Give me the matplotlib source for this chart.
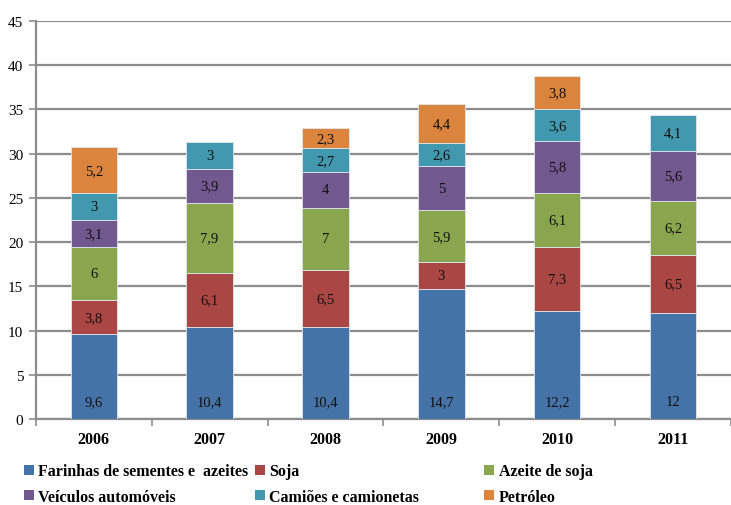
import matplotlib
matplotlib.use("Agg")
import matplotlib.pyplot as plt
import numpy as np
from matplotlib.patches import Patch

plt.rcParams['font.family'] = ['Liberation Serif', 'DejaVu Serif']

years = ['2006', '2007', '2008', '2009', '2010', '2011']
series_names = ['Farinhas de sementes e  azeites', 'Soja', 'Azeite de soja',
                'Veículos automóveis', 'Camiões e camionetas', 'Petróleo']
farinhas = [9.6, 10.4, 10.4, 14.7, 12.2, 12.0]
soja = [3.8, 6.1, 6.5, 3.0, 7.3, 6.5]
azeite = [6.0, 7.9, 7.0, 5.9, 6.1, 6.2]
veiculos = [3.1, 3.9, 4.0, 5.0, 5.8, 5.6]
camioes = [3.0, 3.0, 2.7, 2.6, 3.6, 4.1]
petroleo = [5.2, 0.0, 2.3, 4.4, 3.8, 0.0]

colors = ['#4572A7', '#AA4643', '#89A54E', '#71588F', '#4198AF', '#DB843D']
series = [farinhas, soja, azeite, veiculos, camioes, petroleo]

def fmt(v):
    s = f"{v:.1f}".rstrip('0').rstrip('.')
    return s.replace('.', ',')

fig = plt.figure(figsize=(7.31, 5.06), dpi=100)
ax = fig.add_axes([0.049, 0.170, 0.951, 0.7865])

x = np.arange(len(years))
bottom = np.zeros(len(years))
for i, (vals, col) in enumerate(zip(series, colors)):
    vals = np.array(vals)
    ax.bar(x, vals, width=0.4, bottom=bottom, color=col, edgecolor='#dfe6ee',
           linewidth=0.6, zorder=3)
    for xi, b, v in zip(x, bottom, vals):
        if v <= 0:
            continue
        ypos = b + 2.0 if i == 0 else b + v / 2
        ax.text(xi, ypos, fmt(v), ha='center', va='center', fontsize=10.5,
                color='#111111', zorder=4)
    bottom += vals

ax.set_xlim(-0.5, len(years) - 0.5)
ax.set_ylim(0, 45)
ax.set_yticks(np.arange(0, 46, 5))
ax.yaxis.grid(True, color='#8c8c8c', linewidth=1.6, zorder=0)
ax.set_axisbelow(True)

ax.set_xticks(x)
ax.set_xticklabels(years, fontweight='bold', fontsize=11.5)
ax.set_xticks(np.arange(-0.5, len(years), 1.0), minor=True)
ax.tick_params(axis='x', which='major', length=0, pad=9)
ax.tick_params(axis='x', which='minor', length=5, width=1.2, color='#8c8c8c',
               direction='out')
ax.tick_params(axis='y', length=5, width=1.2, color='#8c8c8c', labelsize=11,
               pad=4)

for side in ['top', 'right']:
    ax.spines[side].set_visible(False)
for side in ['left', 'bottom']:
    ax.spines[side].set_color('#8c8c8c')
    ax.spines[side].set_linewidth(1.6)

# Legend in three columns, one legend per column
col_x = [0.033, 0.349, 0.6625]
for c in range(3):
    idx = [c, c + 3]
    handles = [Patch(facecolor=colors[k], edgecolor='none') for k in idx]
    labels = [series_names[k] for k in idx]
    fig.legend(handles, labels, loc='upper left', bbox_to_anchor=(col_x[c], 0.0825),
               frameon=False, handlelength=0.6, handleheight=0.6, handletextpad=0.3,
               labelspacing=0.6, borderaxespad=0, borderpad=0,
               prop={'weight': 'bold', 'size': 11.5})

fig.savefig('out.png', dpi=100)
